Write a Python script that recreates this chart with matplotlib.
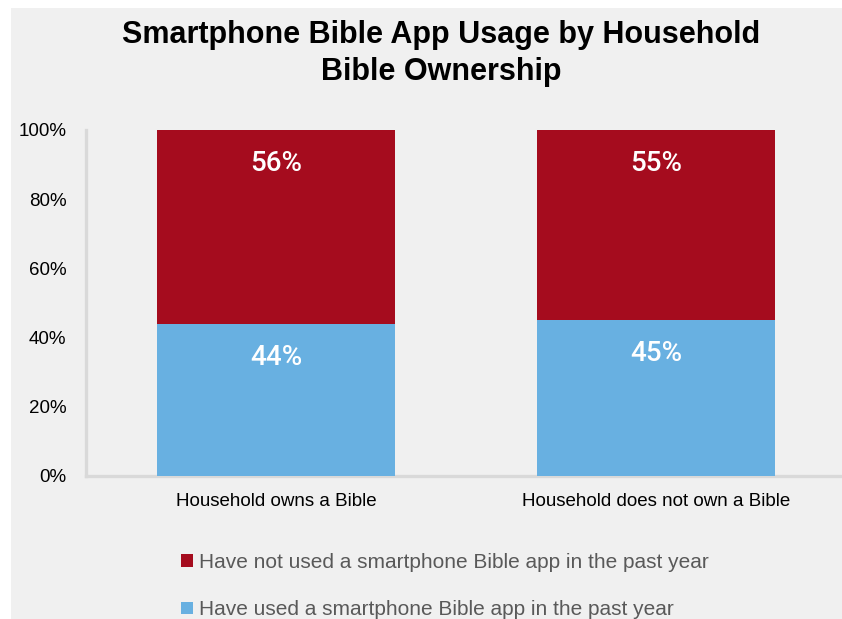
import matplotlib
matplotlib.use("Agg")
import matplotlib.pyplot as plt
from matplotlib import font_manager
from matplotlib.patches import Rectangle

# Data
categories = ["Household owns a Bible", "Household does not own a Bible"]
used_app = [44, 45]
not_used_app = [56, 55]
series_labels = ["Have not used a smartphone Bible app in the past year",
                 "Have used a smartphone Bible app in the past year"]
y_ticks = [0, 20, 40, 60, 80, 100]

RED = "#a50c1e"
BLUE = "#68b0e1"
BG = "#f0f0f0"
AXIS = "#d9d9d9"

available = {f.name for f in font_manager.fontManager.ttflist}
narrow = "Liberation Sans Narrow" if "Liberation Sans Narrow" in available else "Liberation Sans"

W, H = 842, 619
fig = plt.figure(figsize=(W / 100, H / 100), dpi=100, facecolor="white")

# grey panel behind the chart
fig.patches.append(Rectangle((11 / W, 0), 1 - 11 / W, 1 - 8 / H,
                             transform=fig.transFigure, facecolor=BG,
                             edgecolor="none", zorder=-10))

ax = fig.add_axes([86 / W, 1 - 476 / H, 760 / W, 346 / H])
ax.set_zorder(2)
ax.set_facecolor("none")

x = list(range(len(categories)))
width = 0.627
b_blue = ax.bar(x, used_app, width, color=BLUE, zorder=3)
b_red = ax.bar(x, not_used_app, width, bottom=used_app, color=RED, zorder=3)

ax.set_xlim(-0.5, 1.5)
ax.set_ylim(0, 100)
ax.set_yticks(y_ticks)
ax.set_yticklabels([f"{v}%" for v in y_ticks], fontfamily=narrow, fontsize=13.5)
ax.set_xticks(x)
ax.set_xticklabels(categories, fontfamily=narrow, fontsize=13.5)
ax.tick_params(axis="y", length=0, pad=14)
ax.tick_params(axis="x", length=0, pad=12)

for side in ("top", "right"):
    ax.spines[side].set_visible(False)
for side in ("left", "bottom"):
    ax.spines[side].set_color(AXIS)
    ax.spines[side].set_linewidth(2.4)

# value labels near the top of each segment
for i in x:
    for top, val in ((used_app[i], used_app[i]),
                     (used_app[i] + not_used_app[i], not_used_app[i])):
        ax.annotate(f"{val}%", xy=(i, top), xytext=(0, -24),
                    textcoords="offset points", ha="center", va="center",
                    color="white", fontsize=20, fontfamily="Roboto",
                    fontweight="medium", zorder=5)

fig.text(441.5 / W, 1 - 53.5 / H,
         "Smartphone Bible App Usage by Household\nBible Ownership",
         ha="center", va="center", fontsize=22, fontweight="bold",
         fontfamily="Liberation Sans", linespacing=1.32)

fig.legend([b_red, b_blue], series_labels, loc="upper left",
           bbox_to_anchor=(181 / W, 1 - 553 / H), frameon=False,
           prop={"family": narrow, "size": 15}, labelcolor="#595959",
           handlelength=0.58, handleheight=0.58, handletextpad=0.3,
           labelspacing=1.36, borderpad=0, borderaxespad=0)

fig.savefig("out.png", dpi=100, facecolor="white")
